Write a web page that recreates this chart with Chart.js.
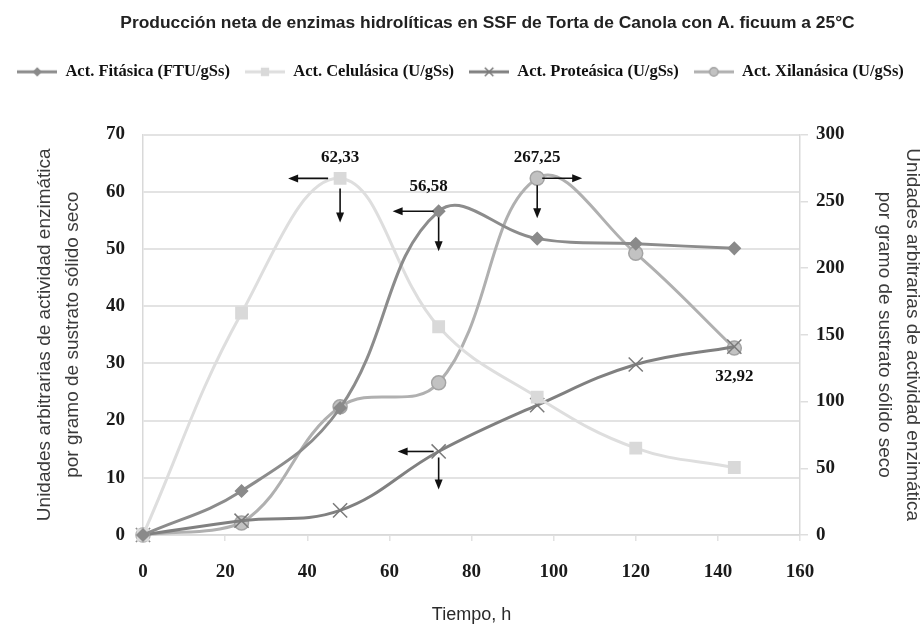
<!DOCTYPE html>
<html>
<head>
<meta charset="utf-8">
<script src="https://cdn.jsdelivr.net/npm/chart.js@4.4.0/dist/chart.umd.min.js"></script>
<style>
  html, body { margin: 0; padding: 0; background: #fff; }
</style>
</head>
<body>
<canvas id="grafica" width="921" height="629"></canvas>
<script>
// tiempos de muestreo (h)
const tiempos = [0, 24, 48, 72, 96, 120, 144];

// eje izquierdo
const fitasica = [0, 7.7, 22.2, 56.58, 51.8, 50.9, 50.1];
const celulasica = [0, 38.8, 62.33, 36.4, 24.1, 15.2, 11.8];
const proteasica = [0, 2.5, 4.3, 14.6, 22.7, 29.8, 32.92];
// eje derecho
const xilanasica = [0, 9, 96, 114, 267.25, 211, 140];

const nombres = [
    'Act. Fitásica (FTU/gSs)',
    'Act. Celulásica (U/gSs)',
    'Act. Proteásica (U/gSs)',
    'Act. Xilanásica (U/gSs)'
];

const serif = "'Liberation Serif', 'Times New Roman', serif";
const sans = "'Liberation Sans', Arial, sans-serif";

function puntos(valores) {
    return tiempos.map((t, i) => ({ x: t, y: valores[i] }));
}

const estilos = [
    { color: '#8c8c8c', marca: 'rectRot', relleno: '#8a8a8a', borde: '#8a8a8a', radio: 6 },
    { color: '#dedede', marca: 'rect', relleno: '#d9d9d9', borde: '#d9d9d9', radio: 8 },
    { color: '#808080', marca: 'crossRot', relleno: '#808080', borde: '#7a7a7a', radio: 10 },
    { color: '#b0b0b0', marca: 'circle', relleno: '#c2c2c2', borde: '#a4a4a4', radio: 7 }
];

// iconos de la leyenda: linea con su marcador
function iconoLeyenda(est) {
    const c = document.createElement('canvas');
    c.width = 40;
    c.height = 16;
    const ctx = c.getContext('2d');
    ctx.strokeStyle = est.color;
    ctx.lineWidth = 3;
    ctx.beginPath();
    ctx.moveTo(0, 8);
    ctx.lineTo(40, 8);
    ctx.stroke();
    ctx.fillStyle = est.relleno;
    ctx.strokeStyle = est.borde;
    ctx.lineWidth = 1.5;
    Chart.helpers.drawPoint(ctx, { pointStyle: est.marca, radius: est.radio * 0.6, borderWidth: 1.5, rotation: 0 }, 20, 8);
    return c;
}
const iconos = estilos.map(iconoLeyenda);

// valores destacados con flechas
const destacados = [
    { serie: 1, punto: 2, dx: 0, dy: -21, flechas: [[-12, 0, -52, 0], [0, 10, 0, 44]] },
    { serie: 0, punto: 3, dx: -10, dy: -25, flechas: [[-5, 0, -46, 0], [0, 6, 0, 40]] },
    { serie: 3, punto: 4, dx: 0, dy: -21, flechas: [[5, 0, 45, 0], [0, 7, 0, 40]] },
    { serie: 2, punto: 3, texto: false, flechas: [[-5, 0, -41, 0], [0, 6, 0, 38]] },
    { serie: 2, punto: 6, dx: 0, dy: 30, flechas: [] }
];
const seriesDatos = [fitasica, celulasica, proteasica, xilanasica];

function flecha(ctx, x1, y1, x2, y2) {
    const a = Math.atan2(y2 - y1, x2 - x1);
    const c = Math.cos(a), s = Math.sin(a);
    ctx.beginPath();
    ctx.moveTo(x1, y1);
    ctx.lineTo(x2 - 7 * c, y2 - 7 * s);
    ctx.stroke();
    ctx.beginPath();
    ctx.moveTo(x2, y2);
    ctx.lineTo(x2 - 10 * c + 4 * s, y2 - 10 * s - 4 * c);
    ctx.lineTo(x2 - 10 * c - 4 * s, y2 - 10 * s + 4 * c);
    ctx.closePath();
    ctx.fill();
}

const pluginDestacados = {
    id: 'destacados',
    afterLayout(chart) {
        // el titulo del original va algo corrido a la derecha
        chart.titleBlock.left += 54;
    },
    afterDatasetsDraw(chart) {
        const ctx = chart.ctx;
        ctx.save();
        ctx.strokeStyle = '#111';
        ctx.fillStyle = '#111';
        ctx.lineWidth = 1.6;
        destacados.forEach(d => {
            const p = chart.getDatasetMeta(d.serie).data[d.punto];
            d.flechas.forEach(f => flecha(ctx, p.x + f[0], p.y + f[1], p.x + f[2], p.y + f[3]));
            if (d.texto !== false) {
                const valor = seriesDatos[d.serie][d.punto].toFixed(2).replace('.', ',');
                ctx.font = 'bold 17px ' + serif;
                ctx.textAlign = 'center';
                ctx.textBaseline = 'middle';
                ctx.fillText(valor, p.x + d.dx, p.y + d.dy);
            }
        });
        ctx.restore();
    }
};

function serie(i, valores, eje) {
    const est = estilos[i];
    return {
        label: nombres[i],
        data: puntos(valores),
        yAxisID: eje,
        borderColor: est.color,
        borderWidth: 3,
        tension: 0.4,
        pointStyle: est.marca,
        pointRadius: est.radio,
        pointBackgroundColor: est.relleno,
        pointBorderColor: est.borde,
        pointBorderWidth: 1.5,
        clip: false
    };
}

new Chart(document.getElementById('grafica'), {
    type: 'line',
    data: {
        datasets: [
            serie(0, fitasica, 'y'),
            serie(1, celulasica, 'y'),
            serie(2, proteasica, 'y'),
            serie(3, xilanasica, 'y2')
        ]
    },
    options: {
        responsive: false,
        animation: false,
        devicePixelRatio: 1,
        events: [],
        layout: { padding: 0 },
        plugins: {
            title: {
                display: true,
                text: 'Producción neta de enzimas hidrolíticas en SSF de Torta de Canola con A. ficuum a 25°C',
                color: '#222',
                font: { family: sans, size: 17.4, weight: 'bold', lineHeight: 1.3 },
                padding: { top: 12, bottom: 14 }
            },
            legend: {
                position: 'top',
                labels: {
                    usePointStyle: true,
                    pointStyleWidth: 40,
                    padding: 15,
                    color: '#111',
                    font: { family: serif, size: 16.5, weight: 'bold' },
                    generateLabels(chart) {
                        const items = Chart.defaults.plugins.legend.labels.generateLabels(chart);
                        items.forEach((it, i) => { it.pointStyle = iconos[i]; });
                        return items;
                    }
                }
            },
            // espacio entre la leyenda y el area del grafico
            subtitle: {
                display: true,
                text: '',
                weight: 500,
                font: { size: 10 },
                padding: { top: 0, bottom: 32.4 }
            },
            tooltip: { enabled: false }
        },
        scales: {
            x: {
                type: 'linear',
                min: 0,
                max: 160,
                afterFit(axis) { axis.height = 94; },
                ticks: {
                    stepSize: 20,
                    padding: 20,
                    color: '#1a1a1a',
                    font: { family: serif, size: 19, weight: 'bold' }
                },
                grid: { drawOnChartArea: false, drawTicks: true, tickLength: 6, color: '#e2e2e2', lineWidth: 1.5 },
                border: { color: '#d9d9d9', width: 1.5 },
                title: {
                    display: true,
                    text: 'Tiempo, h',
                    color: '#2a2a2a',
                    font: { family: sans, size: 18 },
                    padding: { top: 0, bottom: 3 }
                }
            },
            y: {
                position: 'left',
                min: 0,
                max: 70,
                afterFit(axis) { axis.width = 143; },
                ticks: {
                    stepSize: 10,
                    padding: 18,
                    color: '#1a1a1a',
                    font: { family: serif, size: 19, weight: 'bold' }
                },
                grid: { color: '#e3e3e3', lineWidth: 2, drawTicks: false },
                border: { color: '#d9d9d9', width: 1.5 },
                title: {
                    display: true,
                    text: ['Unidades arbitrarias de actividad enzimática', 'por gramo de sustrato sólido seco'],
                    color: '#3a3a3a',
                    font: { family: sans, size: 19, lineHeight: 1.47 },
                    padding: { top: 31, bottom: 0 }
                }
            },
            y2: {
                position: 'right',
                min: 0,
                max: 300,
                afterFit(axis) { axis.width = 121; },
                ticks: {
                    stepSize: 50,
                    padding: 8,
                    color: '#1a1a1a',
                    font: { family: serif, size: 19, weight: 'bold' }
                },
                grid: { drawOnChartArea: false, drawTicks: true, tickLength: 8, color: '#dedede', lineWidth: 1.5 },
                border: { color: '#d9d9d9', width: 1.5 },
                title: {
                    display: true,
                    text: ['Unidades arbitrarias de actividad enzimática', 'por gramo de sustrato sólido seco'],
                    color: '#3a3a3a',
                    font: { family: sans, size: 19, lineHeight: 1.47 },
                    padding: { top: -5, bottom: 0 }
                }
            }
        }
    },
    plugins: [pluginDestacados]
});
</script>
</body>
</html>
